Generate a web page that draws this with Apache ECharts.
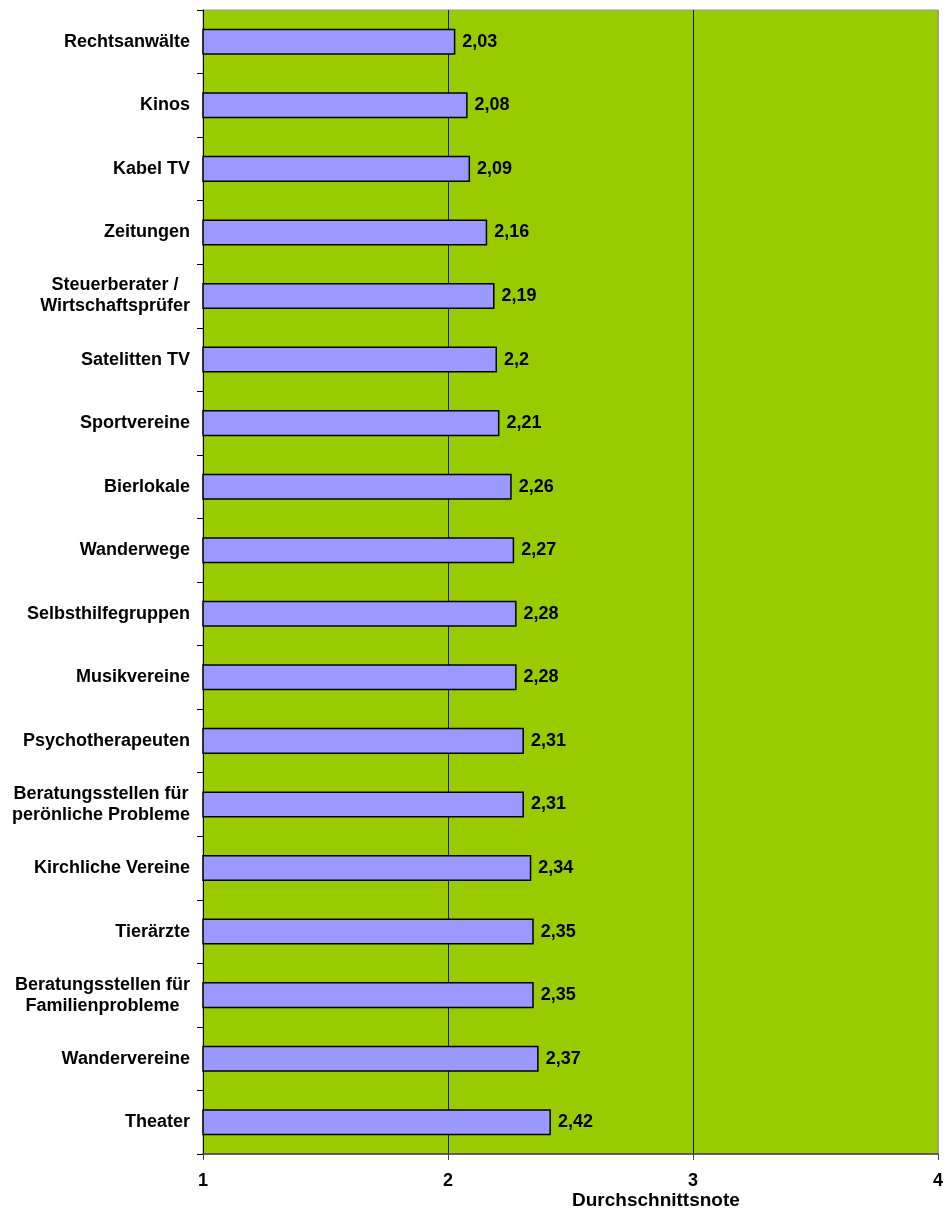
<!DOCTYPE html>
<html>
<head>
<meta charset="utf-8">
<script src="https://cdn.jsdelivr.net/npm/echarts@6/dist/echarts.min.js"></script>
<style>
  html, body { margin: 0; padding: 0; background: #fff; }
  #chart { width: 946px; height: 1212px; }
</style>
</head>
<body>
<div id="chart"></div>
<script>
// Categories, top to bottom
const categories = [
  'Rechtsanwälte', 'Kinos', 'Kabel TV', 'Zeitungen',
  'Steuerberater /\nWirtschaftsprüfer', 'Satelitten TV', 'Sportvereine',
  'Bierlokale', 'Wanderwege', 'Selbsthilfegruppen', 'Musikvereine',
  'Psychotherapeuten', 'Beratungsstellen für\nperönliche Probleme',
  'Kirchliche Vereine', 'Tierärzte',
  'Beratungsstellen für\nFamilienprobleme', 'Wandervereine', 'Theater'
];
// Average grade per category
const scores = [
  2.03, 2.08, 2.09, 2.16, 2.19, 2.2, 2.21, 2.26, 2.27,
  2.28, 2.28, 2.31, 2.31, 2.34, 2.35, 2.35, 2.37, 2.42
];
const xTicks = [1, 2, 3, 4];
const axisTitle = 'Durchschnittsnote';

const font = 'Arial, "Liberation Sans", sans-serif';
const chart = echarts.init(document.getElementById('chart'), null, { renderer: 'canvas' });

const labelFont = { color: '#000', fontFamily: font, fontWeight: 'bold', fontSize: 18 };

chart.setOption({
  animation: false,
  backgroundColor: '#ffffff',
  grid: {
    left: 203, right: 6, top: 10, bottom: 58,
    show: true, backgroundColor: '#99cc00', borderColor: '#999999', borderWidth: 1
  },
  xAxis: {
    type: 'value',
    min: xTicks[0], max: xTicks[xTicks.length - 1], interval: 1,
    axisLine: { show: true, lineStyle: { color: '#444444', width: 1.5 } },
    axisTick: { show: true, length: 6, lineStyle: { color: '#444444' } },
    axisLabel: Object.assign({ margin: 18, formatter: v => String(v) }, labelFont),
    splitLine: {
      show: true,
      lineStyle: { color: ['#444444', '#1a1a1a', '#1a1a1a', '#999999'], width: 1 }
    }
  },
  yAxis: {
    type: 'category',
    inverse: true,
    data: categories,
    axisLine: { show: true, lineStyle: { color: '#000', width: 1 } },
    axisTick: { show: true, length: 6, lineStyle: { color: '#000' } },
    axisLabel: Object.assign({
      margin: 13, align: 'right', lineHeight: 21, interval: 0,
      // each line is centred within the label block
      formatter: v => v.split('\n').map(l => '{c|' + l + '}').join('\n'),
      rich: { c: Object.assign({ align: 'center', lineHeight: 21 }, labelFont) }
    }, labelFont)
  },
  graphic: [{
    type: 'text',
    left: 572, top: 1191,
    style: {
      text: axisTitle, fill: '#000',
      font: 'bold 19px ' + font
    }
  }],
  series: [{
    type: 'bar',
    data: scores,
    barCategoryGap: '59%',
    itemStyle: { color: '#9999ff', borderColor: '#000', borderWidth: 1.5 },
    label: Object.assign({
      show: true, position: 'right', distance: 7,
      formatter: p => String(p.value).replace('.', ',')
    }, labelFont)
  }]
});
</script>
</body>
</html>
